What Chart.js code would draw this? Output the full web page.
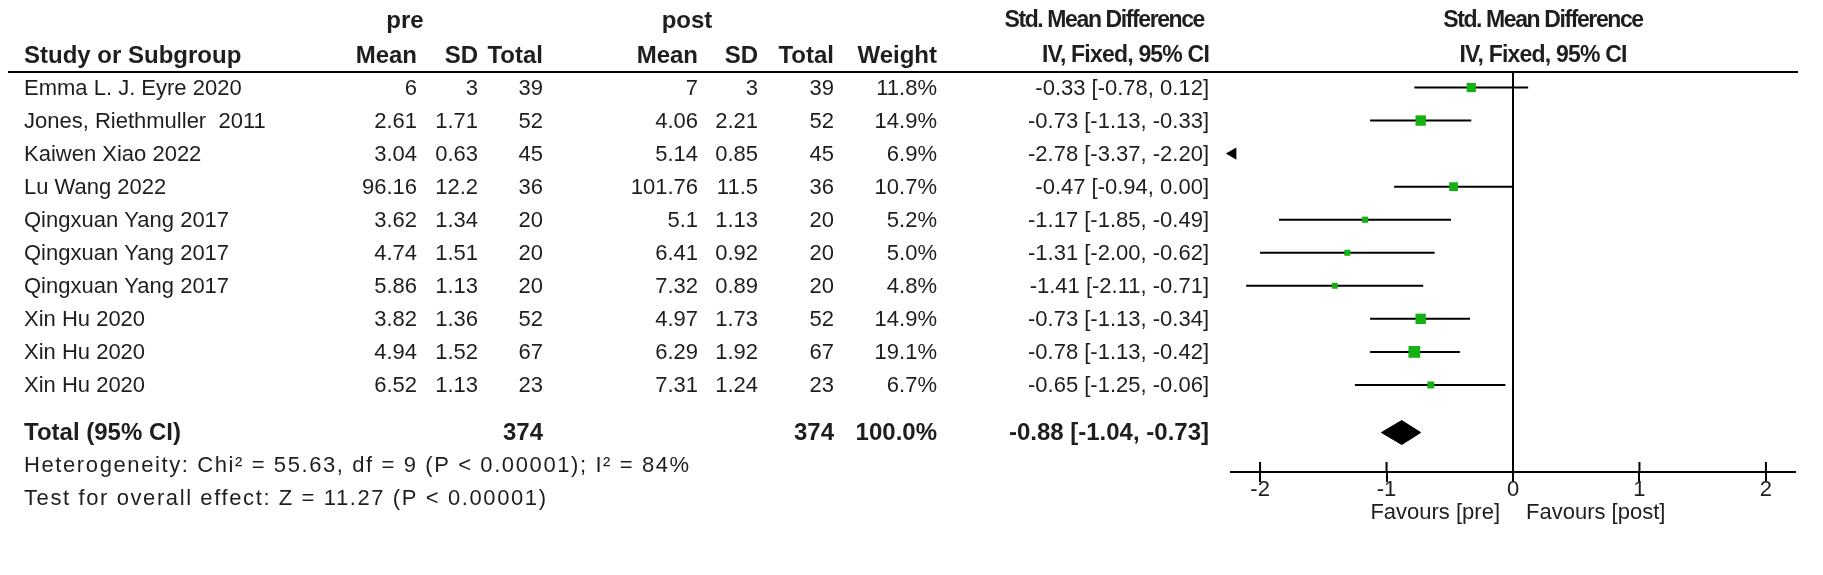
<!DOCTYPE html>
<html><head><meta charset="utf-8">
<script src="https://cdn.jsdelivr.net/npm/chart.js@4.4.1/dist/chart.umd.min.js"></script>
<style>html,body{margin:0;padding:0;background:#fff;}canvas{display:block;}</style>
</head><body>
<canvas id="c" width="1823" height="575"></canvas>
<script>
// ---------- DATA ----------
const studies = ["Emma L. J. Eyre 2020","Jones, Riethmuller  2011","Kaiwen Xiao 2022","Lu Wang 2022","Qingxuan Yang 2017","Qingxuan Yang 2017","Qingxuan Yang 2017","Xin Hu 2020","Xin Hu 2020","Xin Hu 2020"];
const preMean  = [6, 2.61, 3.04, 96.16, 3.62, 4.74, 5.86, 3.82, 4.94, 6.52];
const preSD    = [3, 1.71, 0.63, 12.2, 1.34, 1.51, 1.13, 1.36, 1.52, 1.13];
const preTotal = [39, 52, 45, 36, 20, 20, 20, 52, 67, 23];
const postMean = [7, 4.06, 5.14, 101.76, 5.1, 6.41, 7.32, 4.97, 6.29, 7.31];
const postSD   = [3, 2.21, 0.85, 11.5, 1.13, 0.92, 0.89, 1.73, 1.92, 1.24];
const postTotal= [39, 52, 45, 36, 20, 20, 20, 52, 67, 23];
const weight   = [11.8, 14.9, 6.9, 10.7, 5.2, 5.0, 4.8, 14.9, 19.1, 6.7];
const smd      = [-0.33, -0.73, -2.78, -0.47, -1.17, -1.31, -1.41, -0.73, -0.78, -0.65];
const ciLow    = [-0.78, -1.13, -3.37, -0.94, -1.85, -2.00, -2.11, -1.13, -1.13, -1.25];
const ciHigh   = [0.12, -0.33, -2.20, 0.00, -0.49, -0.62, -0.71, -0.34, -0.42, -0.06];
const totalPre = 374, totalPost = 374, totalWeight = 100.0;
const totalSmd = -0.88, totalLow = -1.04, totalHigh = -0.73;
const heterogeneityText = "Heterogeneity: Chi\u00b2 = 55.63, df = 9 (P < 0.00001); I\u00b2 = 84%";
const overallText = "Test for overall effect: Z = 11.27 (P < 0.00001)";
const xTicks = [-2, -1, 0, 1, 2];
const favoursLeft = "Favours [pre]", favoursRight = "Favours [post]";
const headerGroups = ["pre", "post"];
const headerCols = ["Study or Subgroup","Mean","SD","Total","Mean","SD","Total","Weight","IV, Fixed, 95% CI","IV, Fixed, 95% CI"];
const effectTitle = "Std. Mean Difference";
const totalLabel = "Total (95% CI)";

// ---------- LAYOUT ----------
const W = 1823, H = 575;
const FS = 22, FSB = 24, FSH = 23, FONT = '"Liberation Sans", Arial, sans-serif';
const TXT = '#1e1e1e', GREEN = '#14b014';
const X_MIN = -2.23, X_MAX = 2.23;
const ROW0 = 87.5, ROWH = 33.05, TOP = 72, AXIS_Y = 472;
const Y_MIN = (TOP - ROW0) / ROWH, Y_MAX = (AXIS_Y - ROW0) / ROWH;
const TOTAL_ROW = 10.44, HET_ROW = 11.42, OVERALL_ROW = 12.42;
const HEAD1_Y = 21, HEAD2_Y = 56, FAVOURS_Y = 513;
const COL = {study:24, preMean:417, preSD:478, preTotal:543, postMean:698, postSD:758, postTotal:834, weight:937, smd:1209};
const PRE_CENTER = 405, POST_CENTER = 687, SMD_HEAD_RIGHT = 1204, RIGHT_HEAD_SHIFT = 30;
const PLOT_LEFT = 1231, PLOT_RIGHT = 1795, X_SCALE_H = 60, TICK_LEN = 10;
const fmtCI = (e,l,h) => `${e.toFixed(2)} [${l.toFixed(2)}, ${h.toFixed(2)}]`;

// ---------- DATASETS ----------
const squares = [], squareR = [], ciPts = [], arrows = [];
studies.forEach((s, i) => {
  if (smd[i] >= X_MIN && smd[i] <= X_MAX) {
    squares.push({x: smd[i], y: i});
    squareR.push(1.9 * Math.sqrt(weight[i]));
  }
  const lo = Math.max(ciLow[i], X_MIN), hi = Math.min(ciHigh[i], X_MAX);
  if (ciLow[i] < X_MIN) arrows.push({x: (X_MIN + hi) / 2, y: i});
  else if (hi > lo) { ciPts.push({x: lo, y: i}, {x: hi, y: i}, {x: null, y: null}); }
});
const DH = 12 / ROWH;
const diamond = [
  {x: totalLow, y: TOTAL_ROW}, {x: totalSmd, y: TOTAL_ROW - DH},
  {x: totalHigh, y: TOTAL_ROW}, {x: totalSmd, y: TOTAL_ROW + DH}, {x: totalLow, y: TOTAL_ROW}
];

const textPlugin = {
  id: 'forestText',
  afterDraw(chart) {
    const ctx = chart.ctx, ys = chart.scales.y, xs = chart.scales.x, ca = chart.chartArea;
    ctx.save();
    ctx.strokeStyle = '#000'; ctx.lineWidth = 2;
    ctx.beginPath(); ctx.moveTo(8, ca.top); ctx.lineTo(ca.right + 3, ca.top); ctx.stroke();
    ctx.beginPath();
    xs.ticks.forEach(t => { const px = xs.getPixelForValue(t.value); ctx.moveTo(px, ca.bottom - TICK_LEN); ctx.lineTo(px, ca.bottom); });
    ctx.stroke();
    ctx.fillStyle = TXT; ctx.textBaseline = 'middle';
    const put = (t, x, y, align, bold, ls, size) => {
      ctx.font = (bold ? 'bold ' + (size || FSB) : (size || FS)) + 'px ' + FONT;
      ctx.letterSpacing = (ls || 0) + 'px';
      ctx.textAlign = align; ctx.fillText(String(t), x, y);
      ctx.letterSpacing = '0px';
    };
    const zx = xs.getPixelForValue(0);
    put(headerGroups[0], PRE_CENTER, HEAD1_Y, 'center', true);
    put(headerGroups[1], POST_CENTER, HEAD1_Y, 'center', true);
    put(effectTitle, SMD_HEAD_RIGHT, HEAD1_Y, 'right', true, -1.4, FSH);
    put(effectTitle, zx + RIGHT_HEAD_SHIFT, HEAD1_Y, 'center', true, -1.4, FSH);
    const cx = [COL.study, COL.preMean, COL.preSD, COL.preTotal, COL.postMean, COL.postSD, COL.postTotal, COL.weight, COL.smd];
    headerCols.forEach((h, k) => {
      if (k === 0) put(h, cx[0], HEAD2_Y, 'left', true);
      else if (k < 8) put(h, cx[k], HEAD2_Y, 'right', true);
      else if (k === 8) put(h, cx[k], HEAD2_Y, 'right', true, -0.8, FSH);
      else put(h, zx + RIGHT_HEAD_SHIFT, HEAD2_Y, 'center', true, -0.8, FSH);
    });
    studies.forEach((s, i) => {
      const y = ys.getPixelForValue(i) + 1;
      put(s, COL.study, y, 'left');
      put(preMean[i], COL.preMean, y, 'right');
      put(preSD[i], COL.preSD, y, 'right');
      put(preTotal[i], COL.preTotal, y, 'right');
      put(postMean[i], COL.postMean, y, 'right');
      put(postSD[i], COL.postSD, y, 'right');
      put(postTotal[i], COL.postTotal, y, 'right');
      put(weight[i].toFixed(1) + '%', COL.weight, y, 'right');
      put(fmtCI(smd[i], ciLow[i], ciHigh[i]), COL.smd, y, 'right');
    });
    const ty = ys.getPixelForValue(TOTAL_ROW) + 1;
    put(totalLabel, COL.study, ty, 'left', true);
    put(totalPre, COL.preTotal, ty, 'right', true);
    put(totalPost, COL.postTotal, ty, 'right', true);
    put(totalWeight.toFixed(1) + '%', COL.weight, ty, 'right', true);
    put(fmtCI(totalSmd, totalLow, totalHigh), COL.smd, ty, 'right', true);
    put(heterogeneityText, COL.study, ys.getPixelForValue(HET_ROW) + 1, 'left', false, 1.6);
    put(overallText, COL.study, ys.getPixelForValue(OVERALL_ROW) + 1, 'left', false, 1.6);
    put(favoursLeft, zx - 13, FAVOURS_Y, 'right');
    put(favoursRight, zx + 13, FAVOURS_Y, 'left');
    ctx.restore();
  }
};

new Chart(document.getElementById('c'), {
  type: 'scatter',
  data: { datasets: [
    { data: squares, pointStyle: 'rect', pointRadius: squareR, backgroundColor: GREEN, borderWidth: 0, pointBorderWidth: 0, showLine: false, order: 0 },
    { data: arrows, pointStyle: 'triangle', rotation: -90, pointRadius: 7, backgroundColor: '#000', borderColor: '#000', pointBorderWidth: 0, showLine: false, clip: false, order: 1 },
    { data: diamond, showLine: true, fill: 'shape', backgroundColor: '#000', borderColor: '#000', borderWidth: 1, pointRadius: 0, tension: 0, order: 2 },
    { data: ciPts, showLine: true, spanGaps: false, borderColor: '#000', borderWidth: 2, pointRadius: 0, order: 3 },
    { data: [{x: 0, y: Y_MIN}, {x: 0, y: Y_MAX}], showLine: true, borderColor: '#000', borderWidth: 2, pointRadius: 0, order: 4 }
  ]},
  options: {
    responsive: false, animation: false, devicePixelRatio: 1,
    layout: { padding: { left: PLOT_LEFT, right: W - PLOT_RIGHT, top: TOP, bottom: H - AXIS_Y - X_SCALE_H } },
    plugins: { legend: { display: false }, tooltip: { enabled: false } },
    scales: {
      x: { type: 'linear', min: X_MIN, max: X_MAX,
        afterFit: s => { s.height = X_SCALE_H; },
        afterBuildTicks: s => { s.ticks = xTicks.map(v => ({value: v})); },
        border: { display: true, color: '#000', width: 2 },
        grid: { drawOnChartArea: false, drawTicks: true, tickLength: TICK_LEN, color: '#000', lineWidth: 2 },
        ticks: { color: TXT, font: { family: FONT, size: FS }, padding: -5, maxRotation: 0, autoSkip: false, callback: v => String(v) }
      },
      y: { type: 'linear', min: Y_MIN, max: Y_MAX, reverse: true, display: false }
    }
  },
  plugins: [textPlugin]
});
</script>
</body></html>
